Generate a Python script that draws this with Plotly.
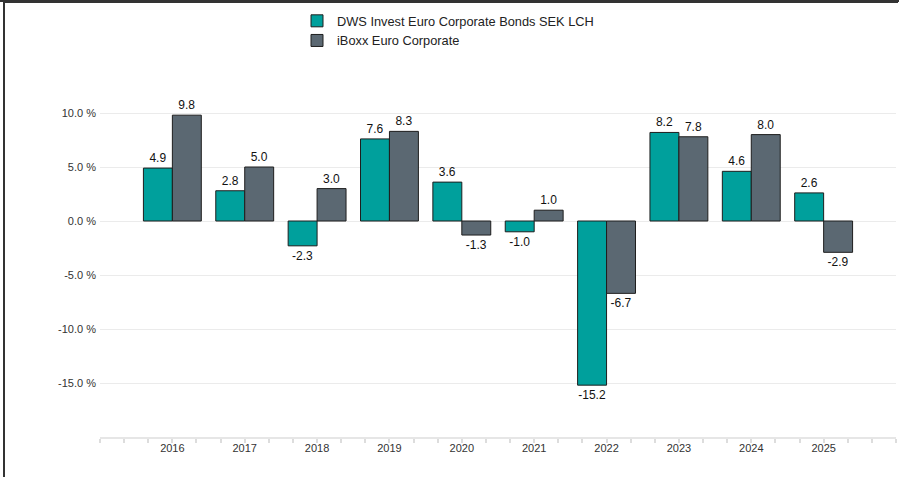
import plotly.graph_objects as go

years = [2016, 2017, 2018, 2019, 2020, 2021, 2022, 2023, 2024, 2025]
fund_name = "DWS Invest Euro Corporate Bonds SEK LCH"
index_name = "iBoxx Euro Corporate"
fund_values = [4.9, 2.8, -2.3, 7.6, 3.6, -1.0, -15.2, 8.2, 4.6, 2.6]
index_values = [9.8, 5.0, 3.0, 8.3, -1.3, 1.0, -6.7, 7.8, 8.0, -2.9]
ytick_vals = [-15, -10, -5, 0, 5, 10, 15]
ytick_text = ["-15.0 %", "-10.0 %", "-5.0 %", "0.0 %", "5.0 %", "10.0 %", ""]

FONT = "Liberation Sans, Arial, sans-serif"
TEAL = "#00a09c"
GREY = "#5b6872"
OUTLINE = "#1e1e1e"

fig = go.Figure()
for name, vals, col in [(fund_name, fund_values, TEAL), (index_name, index_values, GREY)]:
    fig.add_trace(go.Bar(
        x=years, y=vals, name=name,
        marker=dict(color=col, line=dict(color=OUTLINE, width=1)),
        texttemplate="%{y:.1f}", textposition="outside",
        textfont=dict(family=FONT, size=12, color="#111111"),
        cliponaxis=False,
    ))

W, H = 899, 477
L, R, T, B = 100, 3, 59, 40
pw = W - L - R
ph = H - T - B

def px_x(p):
    return (p - L) / pw

def px_y(p):
    return (H - B - p) / ph

fig.update_layout(
    width=W, height=H,
    margin=dict(l=L, r=R, t=T, b=B),
    paper_bgcolor="rgba(0,0,0,0)", plot_bgcolor="white",
    barmode="group", bargap=0.2, bargroupgap=0,
    font=dict(family=FONT, size=11, color="#333333"),
    showlegend=True,
    legend=dict(
        orientation="v", x=px_x(297), y=px_y(6), xanchor="left", yanchor="top",
        font=dict(family=FONT, size=12.8, color="#222222"),
        bgcolor="rgba(0,0,0,0)", tracegroupgap=0, itemwidth=30,
    ),
    xaxis=dict(
        range=[2015, 2026], tickmode="array", tickvals=years,
        ticktext=[str(y) for y in years],
        ticks="", showgrid=False, zeroline=False,
        showline=True, linecolor="#e6e6e6", linewidth=2,
        tickfont=dict(family=FONT, size=11, color="#333333"),
        minor=dict(ticks="outside", dtick=1/3, tick0=2015, ticklen=4,
                   tickcolor="#dddddd", tickwidth=2, showgrid=False),
    ),
    yaxis=dict(
        range=[-20, 15], tickmode="array", tickvals=ytick_vals, ticktext=ytick_text,
        showgrid=True, gridcolor="#ebebeb", gridwidth=1, zeroline=False,
        showline=False, ticks="", ticklabelstandoff=3,
        tickfont=dict(family=FONT, size=11, color="#333333"),
    ),
    shapes=[
        dict(type="line", xref="paper", yref="paper", x0=px_x(4), x1=px_x(4),
             y0=px_y(1), y1=px_y(H), line=dict(color="#333333", width=2)),
        dict(type="line", xref="paper", yref="paper", x0=px_x(3), x1=px_x(W - 1),
             y0=px_y(2), y1=px_y(2), line=dict(color="#333333", width=2)),
    ],
)

fig.write_html(
    "out.html",
    config={"displayModeBar": False},
    post_script=(
        "document.documentElement.style.margin='0';"
        "document.body.style.margin='0';"
        "document.body.style.background='white';"
        "document.body.style.overflow='hidden';"
        "var gd=document.querySelector('.plotly-graph-div');"
        "if(gd){gd.style.boxShadow='inset 0 2px 0 #333333';}"
        "window.scrollTo(0,0);"
    ),
)
